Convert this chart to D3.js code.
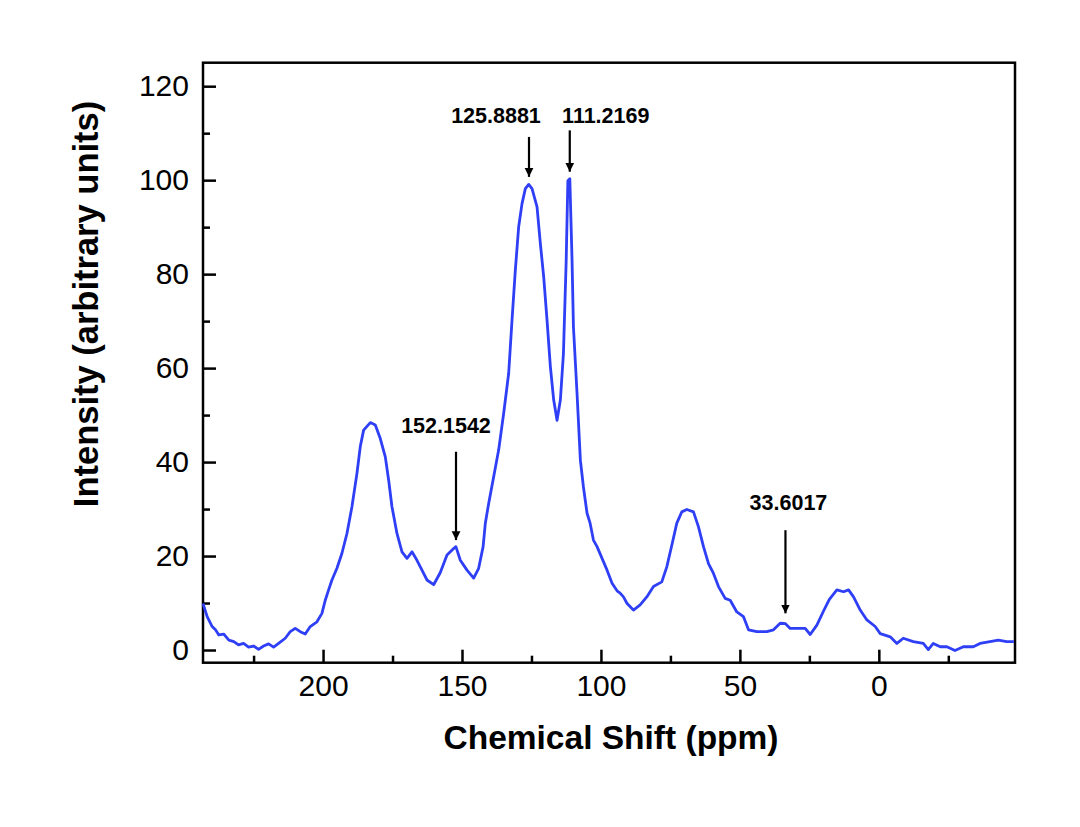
<!DOCTYPE html>
<html lang="en">
    <head>
        <meta charset="utf-8">
        <title>NMR Spectrum</title>
        <script src="https://d3js.org/d3.v7.min.js"></script>
        <style type="text/css">
            body {
                margin: 0;
                background: #fff;
            }

            .axis line {
                stroke: #000;
                stroke-width: 2.5px;
            }

            .axis text {
                font-family: "Liberation Sans", Arial, Helvetica, sans-serif;
                font-size: 30px;
                fill: #000;
            }

            .spectrum {
                fill: none;
                stroke: #2e3ff6;
                stroke-width: 2.8px;
                stroke-linejoin: round;
            }

            .title, .ann {
                font-family: "Liberation Sans", Arial, Helvetica, sans-serif;
                font-weight: bold;
                fill: #000;
            }
        </style>
    </head>
    <body>
        <script type="text/javascript">

            //data (chemical shift in ppm, intensity)
            const shift = [243.2, 241.7, 239.9, 238.7, 237.5, 235.7, 233.9, 232.1, 230.4, 228.6,
                           226.8, 225.0, 223.2, 221.4, 219.6, 217.8, 216.0, 213.6, 211.8, 210.0,
                           208.2, 206.4, 204.6, 202.2, 200.4, 199.2, 198.0, 196.8, 195.0, 193.2,
                           191.4, 189.6, 187.8, 186.6, 185.4, 183.0, 181.2, 179.4, 177.6, 176.4,
                           175.2, 173.4, 171.6, 169.8, 168.0, 166.2, 164.4, 162.6, 160.2, 157.8,
                           155.4, 153.0, 152.2, 150.6, 148.2, 145.8, 144.0, 142.4, 141.6, 140.4,
                           138.6, 136.8, 135.0, 133.2, 132.0, 130.8, 129.6, 128.4, 127.2, 126.0,
                           124.8, 123.0, 121.8, 120.6, 119.4, 118.2, 117.0, 115.8, 114.6, 113.5,
                           112.5, 111.9, 111.2, 110.4, 109.9, 108.6, 107.4, 106.3, 105.0, 103.9,
                           102.7, 101.4, 99.6, 97.8, 96.0, 94.2, 93.1, 91.9, 90.6, 88.3,
                           85.9, 83.5, 81.1, 78.1, 76.3, 74.5, 72.7, 70.9, 69.1, 66.7,
                           64.9, 63.1, 61.3, 59.5, 57.7, 55.3, 53.5, 51.1, 48.7, 46.9,
                           43.9, 40.3, 37.9, 35.5, 33.6, 31.9, 29.5, 26.5, 24.7, 22.3,
                           19.9, 17.8, 15.1, 12.7, 10.9, 9.1, 6.7, 4.3, 1.3, -0.5,
                           -4.1, -6.5, -8.8, -12.4, -16.0, -17.8, -19.6, -22.1, -24.5, -27.4,
                           -30.4, -34.0, -36.4, -40.0, -43.0, -46.0, -48.6];

            const intensity = [9.9, 7.1, 5.0, 4.3, 3.2, 3.4, 2.1, 1.8, 1.1, 1.4,
                               0.6, 0.85, 0.15, 0.85, 1.3, 0.6, 1.4, 2.5, 3.9, 4.6,
                               3.9, 3.4, 5.0, 6.0, 7.8, 10.6, 12.8, 14.9, 17.4, 20.6,
                               24.8, 30.5, 37.6, 43.3, 46.8, 48.4, 47.9, 45.0, 41.1, 36.2,
                               30.5, 24.8, 20.9, 19.5, 20.9, 19.1, 17.0, 14.9, 13.9, 16.5,
                               20.2, 21.6, 22.0, 19.1, 17.0, 15.3, 17.4, 22.0, 27.0, 31.2,
                               36.9, 42.6, 50.4, 58.9, 70.2, 80.9, 90.1, 95.0, 98.2, 99.1,
                               98.2, 94.3, 86.5, 79.4, 70.2, 60.3, 53.2, 48.9, 53.2, 63.1,
                               83.0, 99.9, 100.3, 83.0, 68.8, 54.6, 40.4, 34.7, 29.1, 27.0,
                               23.4, 22.0, 19.5, 17.0, 14.2, 12.6, 12.1, 11.3, 9.9, 8.5,
                               9.6, 11.3, 13.5, 14.5, 17.7, 22.3, 27.0, 29.4, 29.9, 29.4,
                               26.2, 22.0, 18.4, 16.3, 13.5, 11.0, 10.6, 8.1, 7.1, 4.3,
                               3.9, 3.9, 4.3, 5.7, 5.6, 4.6, 4.6, 4.6, 3.3, 5.3,
                               8.3, 10.8, 12.8, 12.4, 12.8, 11.3, 8.5, 6.4, 5.0, 3.5,
                               2.8, 1.4, 2.5, 1.8, 1.4, 0.1, 1.4, 0.7, 0.7, -0.1,
                               0.7, 0.7, 1.4, 1.8, 2.1, 1.8, 1.8];

            //peak annotations
            const peakShift = [152.1542, 125.8881, 111.2169, 33.6017];
            const peakText  = ["152.1542", "125.8881", "111.2169", "33.6017"];
            const arrowTip  = [23.4, 100.7, 101.8, 7.8];   //intensity at arrow tip
            const arrowTail = [42.2, 109.2, 110.6, 25.5];  //intensity at arrow tail
            const labelAt   = [46.1, 112.1, 112.1, 29.9];  //intensity at label baseline

            //tick values
            const xMajor = [200, 150, 100, 50, 0];
            const xMinor = [225, 175, 125, 75, 25, -25];
            const yMajor = [0, 20, 40, 60, 80, 100, 120];
            const yMinor = [10, 30, 50, 70, 90, 110];

            //layout
            const w = 1080;
            const h = 827;
            const plotLeft = 203, plotRight = 1015, plotTop = 62.7, plotBottom = 662.7;
            const labelShift = [-10, -33, 36, 3]; //label centre relative to arrow, px

            const xScale = d3.scaleLinear()
                             .domain([243.2, -49])
                             .range([plotLeft, plotRight]);

            const yScale = d3.scaleLinear()
                             .domain([-2.7, 125])
                             .range([plotBottom, plotTop]);

            const svg = d3.select("body")
                    .append("svg")
                    .attr("width", w)
                    .attr("height", h);

            //ticks point inwards
            svg.append("g")
               .attr("class", "axis")
               .attr("transform", "translate(0," + plotBottom + ")")
               .call(d3.axisBottom(xScale).tickValues(xMajor).tickSize(-13).tickPadding(12))
               .call(g => g.select(".domain").remove());

            svg.append("g")
               .attr("class", "axis")
               .attr("transform", "translate(0," + plotBottom + ")")
               .call(d3.axisBottom(xScale).tickValues(xMinor).tickSize(-7).tickFormat(""))
               .call(g => g.select(".domain").remove());

            svg.append("g")
               .attr("class", "axis")
               .attr("transform", "translate(" + plotLeft + ",0)")
               .call(d3.axisLeft(yScale).tickValues(yMajor).tickSize(-13).tickPadding(14))
               .call(g => g.select(".domain").remove());

            svg.append("g")
               .attr("class", "axis")
               .attr("transform", "translate(" + plotLeft + ",0)")
               .call(d3.axisLeft(yScale).tickValues(yMinor).tickSize(-7).tickFormat(""))
               .call(g => g.select(".domain").remove());

            //frame
            svg.append("rect")
               .attr("x", plotLeft)
               .attr("y", plotTop)
               .attr("width", plotRight - plotLeft)
               .attr("height", plotBottom - plotTop)
               .attr("fill", "none")
               .attr("stroke", "#000")
               .attr("stroke-width", 2.5);

            //spectrum
            const points = shift.map((s, i) => [s, intensity[i]]);

            const line = d3.line()
                           .x(d => xScale(d[0]))
                           .y(d => yScale(d[1]));

            svg.append("path")
               .datum(points)
               .attr("class", "spectrum")
               .attr("d", line);

            //arrows
            svg.append("defs")
               .append("marker")
               .attr("id", "head")
               .attr("viewBox", "0 0 10 10")
               .attr("refX", 10)
               .attr("refY", 5)
               .attr("markerWidth", 4)
               .attr("markerHeight", 5)
               .attr("markerUnits", "strokeWidth")
               .attr("orient", "auto")
               .append("path")
               .attr("d", "M0,0L10,5L0,10Z")
               .attr("fill", "#000");

            peakShift.forEach((p, i) => {
                svg.append("line")
                   .attr("x1", xScale(p))
                   .attr("x2", xScale(p))
                   .attr("y1", yScale(arrowTail[i]))
                   .attr("y2", yScale(arrowTip[i]))
                   .attr("stroke", "#000")
                   .attr("stroke-width", 2.2)
                   .attr("marker-end", "url(#head)");

                svg.append("text")
                   .attr("class", "ann")
                   .attr("x", xScale(p) + labelShift[i])
                   .attr("y", yScale(labelAt[i]))
                   .attr("text-anchor", "middle")
                   .attr("font-size", 21.5)
                   .text(peakText[i]);
            });

            //axis titles
            svg.append("text")
               .attr("class", "title")
               .attr("x", 611)
               .attr("y", 749)
               .attr("text-anchor", "middle")
               .attr("font-size", 33.5)
               .text("Chemical Shift (ppm)");

            svg.append("text")
               .attr("class", "title")
               .attr("transform", "translate(98,304) rotate(-90)")
               .attr("text-anchor", "middle")
               .attr("font-size", 34.5)
               .text("Intensity (arbitrary units)");

        </script>
    </body>
</html>
